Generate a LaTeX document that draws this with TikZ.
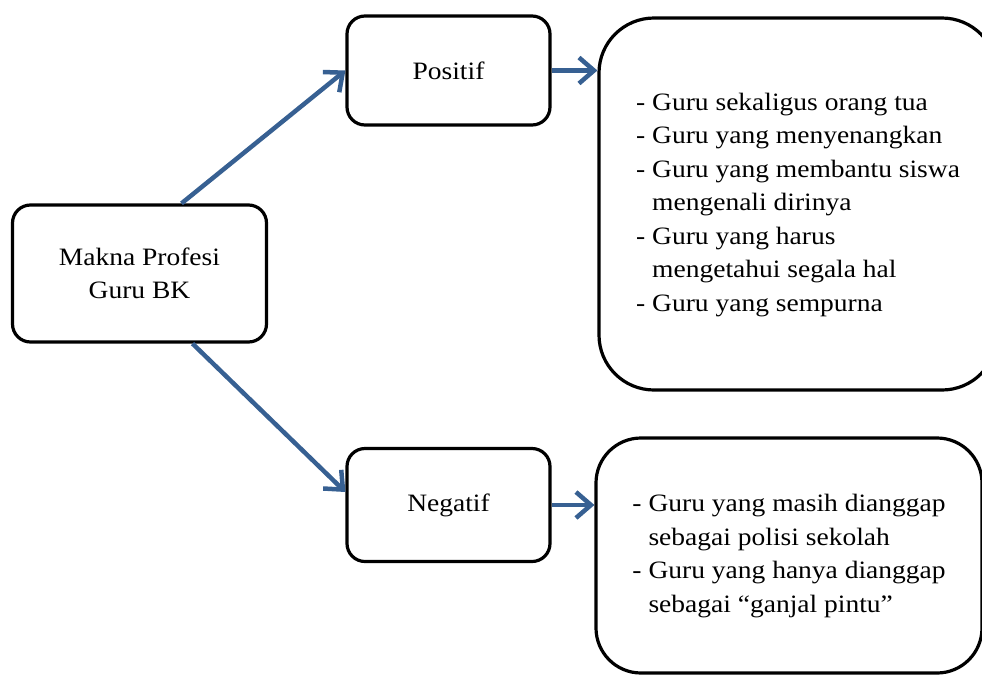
\documentclass[tikz,border=0pt]{standalone}
\usepackage{fontspec}
\setmainfont[FakeStretch=1.1]{Liberation Serif}
\usetikzlibrary{arrows.meta}
\definecolor{arrowblue}{HTML}{376092}

\begin{document}
\begin{tikzpicture}[x=1pt,y=-1pt,
    box/.style={draw=black, line width=3.2pt, rounded corners=18pt, fill=white,
      align=center, inner sep=0pt, font=\fontsize{25}{33.5}\selectfont},
    link/.style={draw=arrowblue, line width=4.5pt,
      -{Straight Barb[length=15pt,width=26pt]}}]
      \useasboundingbox (0,0) rectangle (982,675);

      % Center
      \node[box, minimum width=254pt, minimum height=137pt] (makna) at (139.5,273.5)
        {Makna Profesi\\Guru BK};

      % Positive and negative
      \node[box, minimum width=203pt, minimum height=109pt] (positif) at (448.5,70.5) {Positif};
      \node[box, minimum width=203pt, minimum height=113pt] (negatif) at (448.5,505) {Negatif};

      % Lists
      \node[box, rounded corners=55pt, minimum width=398pt, minimum height=372pt] (poslist) at (798,204)
        {\begin{tabular}{@{}l@{\hspace{7pt}}l@{}}
          - & Guru sekaligus orang tua\\
          - & Guru yang menyenangkan\\
          - & Guru yang membantu siswa\\
            & mengenali dirinya\\
          - & Guru yang harus\\
            & mengetahui segala hal\\
          - & Guru yang sempurna
        \end{tabular}};
      \node[box, rounded corners=45pt, minimum width=386pt, minimum height=235pt] (neglist) at (789,555.5)
        {\begin{tabular}{@{}l@{\hspace{7pt}}l@{}}
          - & Guru yang masih dianggap\\
            & sebagai polisi sekolah\\
          - & Guru yang hanya dianggap\\
            & sebagai “ganjal pintu”
        \end{tabular}};

      % Arrows
      \draw[link] ([xshift=42pt]makna.north) -- (positif.west);
      \draw[link] ([xshift=53pt]makna.south) -- ([yshift=13pt]negatif.west);
      \draw[link] (positif.east) -- (poslist.west |- positif.east);
      \draw[link] (negatif.east) -- (neglist.west |- negatif.east);

    \end{tikzpicture}
\end{document}
